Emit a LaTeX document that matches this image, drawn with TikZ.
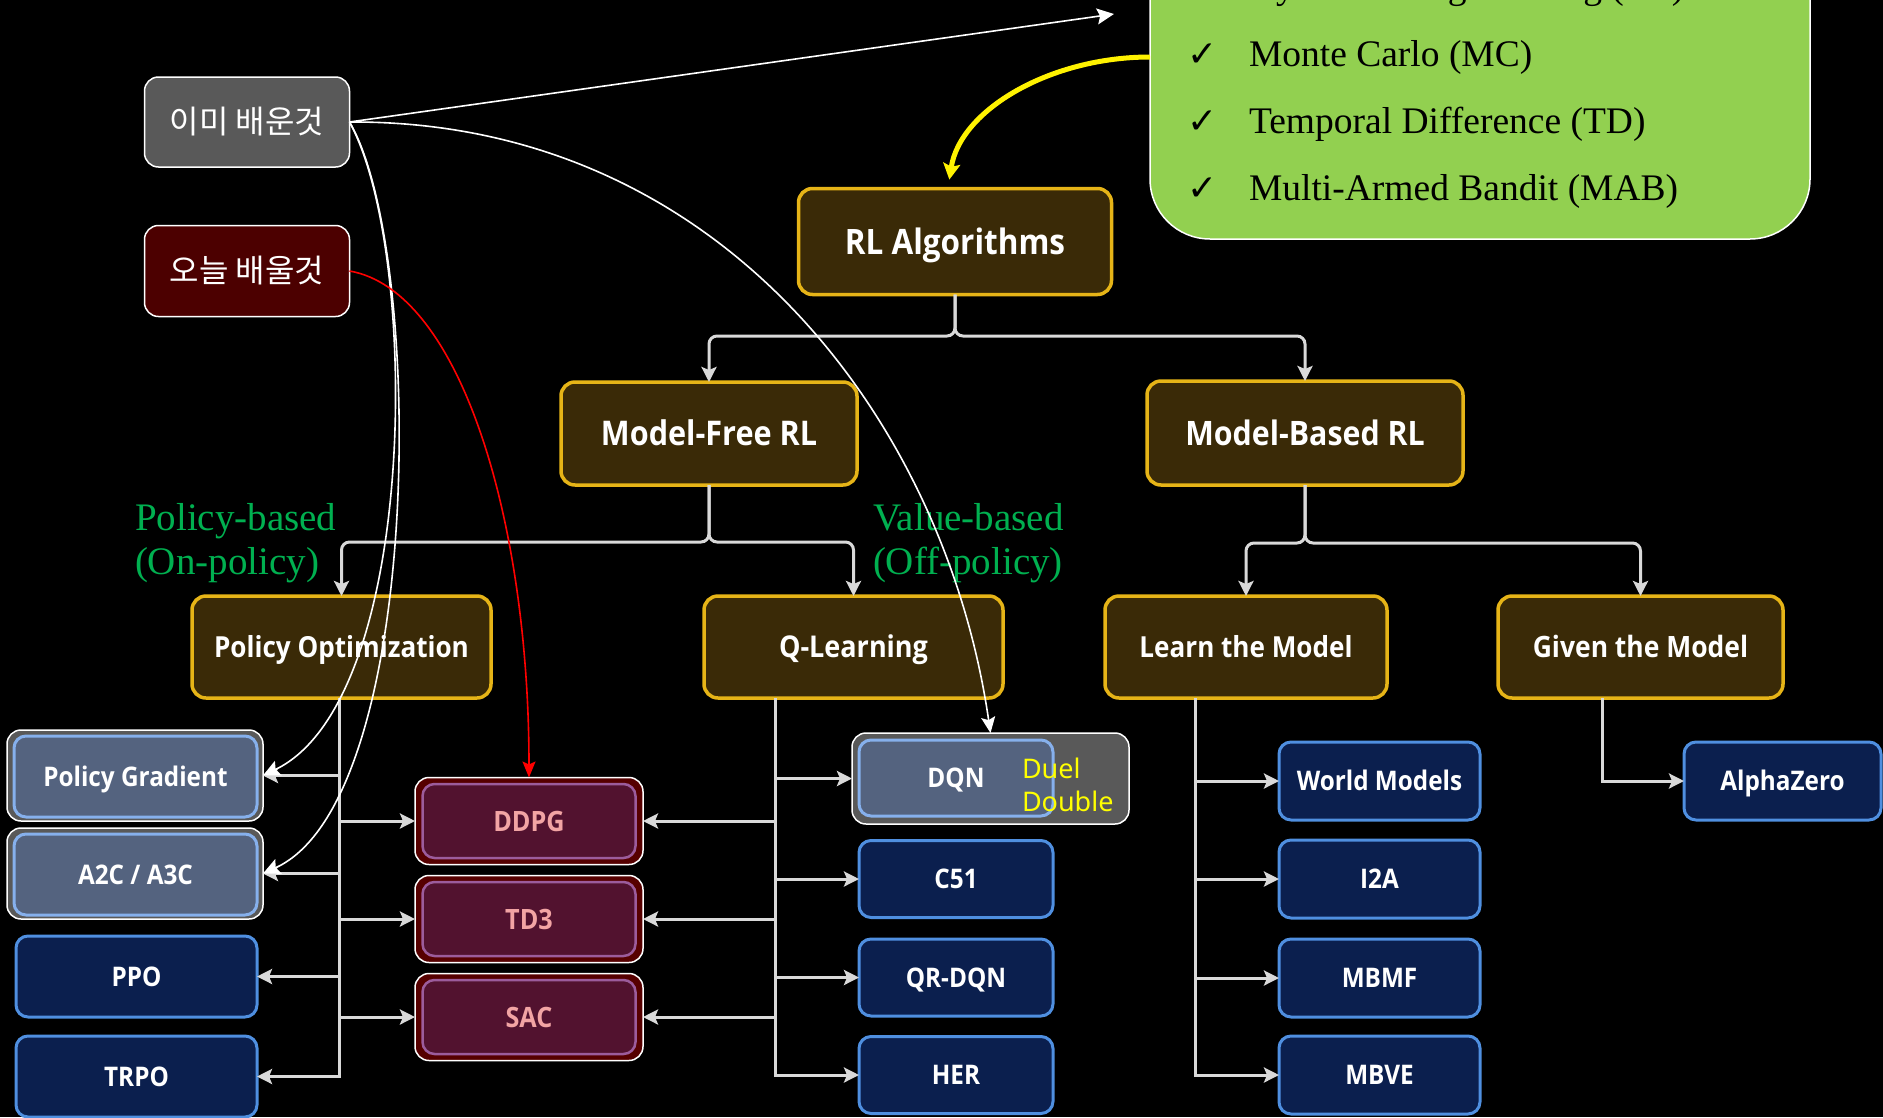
\documentclass[tikz,border=0pt]{standalone}
\usepackage{fontspec}
\setmainfont{Liberation Serif}
\newfontfamily\boxfont[FakeStretch=0.9]{Open Sans}
\newfontfamily\hangulfont{Noto Sans CJK KR}
\newfontfamily\tickfont{DejaVu Sans}
\newfontfamily\notefont{Noto Sans}
\usetikzlibrary{arrows.meta}

\definecolor{brownfill}{HTML}{3A2A07}
\definecolor{goldline}{HTML}{E6B417}
\definecolor{navyfill}{HTML}{0B1F4E}
\definecolor{skyline}{HTML}{4F8FE0}
\definecolor{slatefill}{HTML}{54637F}
\definecolor{slateline}{HTML}{86B0EC}
\definecolor{framegray}{HTML}{595959}
\definecolor{wine}{HTML}{560000}
\definecolor{plumfill}{HTML}{52122F}
\definecolor{plumline}{HTML}{9C5C9C}
\definecolor{pinktext}{HTML}{F2A4A4}
\definecolor{leaf}{HTML}{92D050}
\definecolor{labelgreen}{HTML}{00B050}
\definecolor{treeline}{HTML}{D9D9D9}
\definecolor{todofill}{HTML}{4C0000}
\definecolor{notetext}{HTML}{FFFF00}

\begin{document}
\begin{tikzpicture}[x=1pt,y=-1pt,
  every node/.style={inner sep=0pt, outer sep=0pt},
  boxtext/.style 2 args={font=\boxfont\bfseries\fontsize{#1}{#1}\selectfont,
    text height=#2, text depth=0pt},
  parent/.style={draw=goldline, line width=3.5pt, fill=brownfill, rounded corners=14pt,
    text=white, boxtext={30}{21.4pt}},
  leafbox/.style={draw=skyline, line width=3pt, fill=navyfill, rounded corners=12pt,
    text=white, boxtext={27}{19.3pt}},
  slatebox/.style={leafbox, draw=slateline, fill=slatefill},
  grayframe/.style={draw=white, line width=1.5pt, fill=framegray, rounded corners=14pt},
  wineframe/.style={draw=white, line width=1.5pt, fill=wine, rounded corners=14pt},
  plumbox/.style={draw=plumline, line width=2.5pt, fill=plumfill, rounded corners=12pt,
    text=pinktext, boxtext={28}{20pt}},
  tagbox/.style={draw=white, line width=1.5pt, rounded corners=14pt, text=white,
    font=\hangulfont\fontsize{32}{36}\selectfont},
  greenlabel/.style={text=labelgreen, align=left, anchor=west,
    font=\fontsize{39}{44}\selectfont},
  reviewline/.style={anchor=base west, text=black, font=\fontsize{37.5}{44}\selectfont},
  tick/.style={anchor=base, text=black, font=\tickfont\fontsize{36}{40}\selectfont},
  tree/.style={draw=treeline, line width=3pt,
    -{Stealth[length=15pt,width=15pt,inset=3pt]}},
  link/.style={draw=white, line width=1.6pt,
    -{Stealth[length=17pt,width=16pt,inset=3pt]}},
]
\useasboundingbox (0,0) rectangle (1883,1117);
\clip (0,0) rectangle (1883,1117);
\fill[black] (0,0) rectangle (1883,1117);

% review panel (top right)
\node[draw=white, line width=1.5pt, fill=leaf, rounded corners=60pt,
  minimum width=660pt, minimum height=340pt] (review) at (1480,69) {};
\node[tick] (t0) at (1203,-2) {✓};
\node[reviewline] (l0) at (1249,-2) {Dynamic Programming (DP)};
\node[tick] (t1) at (1203,66) {✓};
\node[reviewline] (l1) at (1249,66) {Monte Carlo (MC)};
\node[tick] (t2) at (1203,133) {✓};
\node[reviewline] (l2) at (1249,133) {Temporal Difference (TD)};
\node[tick] (t3) at (1203,200) {✓};
\node[reviewline] (l3) at (1249,200) {Multi-Armed Bandit (MAB)};

% legend tags
\node[tagbox, fill=framegray, minimum width=205pt, minimum height=90pt] (done) at (247,122) {이미 배운것};
\node[tagbox, fill=todofill, minimum width=205pt, minimum height=91pt] (todo) at (247,271) {오늘 배울것};

% category boxes
\node[parent, boxtext={35}{25pt}, minimum width=313pt, minimum height=106pt] (rl) at (955,241.5) {RL Algorithms};
\node[parent, boxtext={34}{24.3pt}, minimum width=296pt, minimum height=103pt] (mf) at (709,433.5) {Model-Free RL};
\node[parent, boxtext={33.7}{24pt}, minimum width=316pt, minimum height=104pt] (mb) at (1305,433) {Model-Based RL};
\node[parent, boxtext={29}{20.7pt}, minimum width=299pt, minimum height=102pt] (po) at (341.5,647) {Policy Optimization};
\node[parent, minimum width=299pt, minimum height=102pt] (ql) at (853.5,647) {Q-Learning};
\node[parent, boxtext={29}{20.7pt}, minimum width=282pt, minimum height=102pt] (lm) at (1246,647) {Learn the Model};
\node[parent, boxtext={29.4}{21pt}, minimum width=285pt, minimum height=102pt] (gm) at (1640.5,647) {Given the Model};

\node[greenlabel] (pbLabel) at (135,543) {Policy-based\\(On-policy)};
\node[greenlabel] (vbLabel) at (873,543) {Value-based\\(Off-policy)};

% policy optimization family
\node[grayframe, minimum width=256pt, minimum height=91pt] (pgframe) at (135,775.5) {};
\node[slatebox, minimum width=243pt, minimum height=81pt] (pg) at (135.5,776.5) {Policy Gradient};
\node[grayframe, minimum width=256pt, minimum height=91pt] (a2cframe) at (135,873.5) {};
\node[slatebox, minimum width=243pt, minimum height=81pt] (a2c) at (135.5,874.5) {A2C / A3C};
\node[leafbox, minimum width=241pt, minimum height=81pt] (ppo) at (136.5,976.5) {PPO};
\node[leafbox, minimum width=241pt, minimum height=81pt] (trpo) at (136.5,1076.5) {TRPO};

% actor-critic hybrids
\node[wineframe, minimum width=228pt, minimum height=87pt] (ddpgframe) at (529,821) {};
\node[plumbox, minimum width=213pt, minimum height=74pt] (ddpg) at (529,821) {DDPG};
\node[wineframe, minimum width=228pt, minimum height=87pt] (td3frame) at (529,919) {};
\node[plumbox, minimum width=213pt, minimum height=74pt] (td3) at (529,919) {TD3};
\node[wineframe, minimum width=228pt, minimum height=87pt] (sacframe) at (529,1017) {};
\node[plumbox, minimum width=213pt, minimum height=74pt] (sac) at (529,1017) {SAC};

% Q-learning family
\node[grayframe, minimum width=277pt, minimum height=91pt] (dqnframe) at (990.5,778.5) {};
\node[slatebox, minimum width=194pt, minimum height=76pt] (dqn) at (956,778) {DQN};
\node[anchor=west, align=left, text=notetext, font=\notefont\fontsize{27}{33}\selectfont] (dqnvariants) at (1022,785) {Duel\\Double};
\node[leafbox, minimum width=194pt, minimum height=77pt] (c51) at (956,879) {C51};
\node[leafbox, minimum width=194pt, minimum height=77pt] (qrdqn) at (956,977.5) {QR-DQN};
\node[leafbox, minimum width=194pt, minimum height=77pt] (her) at (956,1075) {HER};

% model-based families
\node[leafbox, minimum width=201pt, minimum height=78pt] (wm) at (1379.5,781) {World Models};
\node[leafbox, minimum width=201pt, minimum height=78pt] (i2a) at (1379.5,879) {I2A};
\node[leafbox, minimum width=201pt, minimum height=78pt] (mbmf) at (1379.5,978) {MBMF};
\node[leafbox, minimum width=201pt, minimum height=78pt] (mbve) at (1379.5,1075) {MBVE};
\node[leafbox, minimum width=197pt, minimum height=78pt] (az) at (1782.5,781) {AlphaZero};

% tree connectors
\draw[tree, rounded corners=8pt] (rl.south) -- ++(0,41.5) -| (mf.north);
\draw[tree, rounded corners=8pt] (rl.south) -- ++(0,41.5) -| (mb.north);
\draw[tree, rounded corners=8pt] (mf.south) -- ++(0,57) -| (po.north);
\draw[tree, rounded corners=8pt] (mf.south) -- ++(0,57) -| (ql.north);
\draw[tree, rounded corners=8pt] (mb.south) -- ++(0,58) -| (lm.north);
\draw[tree, rounded corners=8pt] (mb.south) -- ++(0,58) -| (gm.north);

\draw[tree] ([xshift=-2.5pt]po.south) |- (pgframe.east);
\draw[tree] ([xshift=-2.5pt]po.south) |- (a2cframe.east);
\draw[tree] ([xshift=-2.5pt]po.south) |- (ppo.east);
\draw[tree] ([xshift=-2.5pt]po.south) |- (trpo.east);
\draw[tree] ([xshift=-2.5pt]po.south) |- (ddpgframe.west);
\draw[tree] ([xshift=-2.5pt]po.south) |- (td3frame.west);
\draw[tree] ([xshift=-2.5pt]po.south) |- (sacframe.west);

\draw[tree] ([xshift=-78.5pt]ql.south) |- (dqnframe.west);
\draw[tree] ([xshift=-78.5pt]ql.south) |- (c51.west);
\draw[tree] ([xshift=-78.5pt]ql.south) |- (qrdqn.west);
\draw[tree] ([xshift=-78.5pt]ql.south) |- (her.west);
\draw[tree] ([xshift=-78.5pt]ql.south) |- (ddpgframe.east);
\draw[tree] ([xshift=-78.5pt]ql.south) |- (td3frame.east);
\draw[tree] ([xshift=-78.5pt]ql.south) |- (sacframe.east);

\draw[tree] ([xshift=-51pt]lm.south) |- (wm.west);
\draw[tree] ([xshift=-51pt]lm.south) |- (i2a.west);
\draw[tree] ([xshift=-51pt]lm.south) |- (mbmf.west);
\draw[tree] ([xshift=-51pt]lm.south) |- (mbve.west);
\draw[tree] ([xshift=-38.5pt]gm.south) |- (az.west);

% pointers from the legend tags
\coordinate (reviewTip) at (1114,14);
\draw[link] (done.east) -- (reviewTip);
\draw[link] (done.east) .. controls (420,250) and (420,700) .. (pgframe.east);
\draw[link] (done.east) .. controls (425,250) and (425,800) .. (a2cframe.east);
\draw[link, -{Stealth[length=16pt,width=14pt,inset=3pt]}] (done.east) .. controls (720,120) and (945,420) .. (dqnframe.north);
\draw[red, line width=1.6pt, -{Stealth[length=16pt,width=13pt,inset=3pt]}]
  (todo.east) .. controls (460,290) and (529,520) .. (ddpgframe.north);

% review panel pointer
\draw[yellow, line width=5pt, shorten >=9pt, -{Stealth[length=16pt,width=17pt,inset=3pt]}]
  ([yshift=12pt]review.west) .. controls (1050,57) and (960,110) .. ([xshift=-7pt]rl.north);
\end{tikzpicture}
\end{document}
